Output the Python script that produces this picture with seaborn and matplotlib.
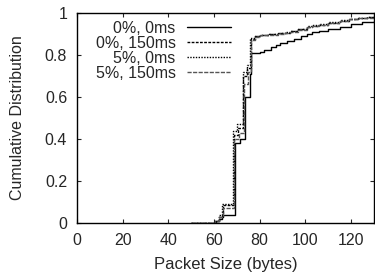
import matplotlib
matplotlib.use("Agg")
import matplotlib.pyplot as plt
import pandas as pd
import seaborn as sns

# CDF points (packet size in bytes, cumulative fraction)
size_0_0 = [50, 60, 61, 62, 63.5, 69.4, 71.2, 73.8, 75.6, 76.3, 78, 80, 82, 85, 87, 89, 92, 95, 98,
            100.7, 103, 106, 110, 115, 120, 125, 130]
cdf_0_0 = [0, 0, 0.01, 0.02, 0.04, 0.38, 0.40, 0.60, 0.71, 0.81, 0.81, 0.815, 0.825, 0.838, 0.847, 0.856,
           0.867, 0.878, 0.889, 0.90, 0.907, 0.915, 0.925, 0.935, 0.945, 0.955, 0.963]

size_0_150 = [50, 59.5, 60.5, 62, 64, 68.6, 70.5, 72.7, 74.5, 76, 78, 80, 84, 88, 91, 93.5, 97, 100.7,
              103, 106, 110, 115, 119, 123, 127, 130]
cdf_0_150 = [0, 0, 0.01, 0.03, 0.085, 0.42, 0.45, 0.70, 0.74, 0.875, 0.89, 0.895, 0.898, 0.902, 0.906,
             0.912, 0.922, 0.935, 0.938, 0.943, 0.952, 0.963, 0.970, 0.975, 0.979, 0.982]

size_5_0 = [50, 59, 60.5, 62, 63.5, 68.4, 70.3, 72.5, 74.3, 75.8, 78, 80, 84, 88, 91, 93.5, 97, 100.7,
            103, 106, 110, 115, 119, 123, 127, 130]
cdf_5_0 = [0, 0, 0.01, 0.04, 0.09, 0.44, 0.47, 0.72, 0.75, 0.88, 0.892, 0.897, 0.90, 0.904, 0.908,
           0.915, 0.925, 0.937, 0.940, 0.946, 0.955, 0.965, 0.972, 0.977, 0.980, 0.983]

size_5_150 = [50, 59.5, 60.5, 62, 64, 68.8, 70.8, 73, 74.8, 76.1, 78, 80, 84, 88, 91, 93.5, 97, 100.7,
              103, 106, 110, 115, 119, 123, 127, 130]
cdf_5_150 = [0, 0, 0.01, 0.03, 0.07, 0.40, 0.43, 0.66, 0.72, 0.87, 0.887, 0.893, 0.897, 0.90, 0.905,
             0.91, 0.92, 0.933, 0.937, 0.942, 0.95, 0.962, 0.969, 0.974, 0.978, 0.981]

labels = ["0%, 0ms", "0%, 150ms", "5%, 0ms", "5%, 150ms"]

sns.set_style("ticks", {"xtick.direction": "in", "ytick.direction": "in"})
plt.rcParams["font.family"] = ["Liberation Sans", "DejaVu Sans"]

fig = plt.figure(figsize=(3.75, 2.74), dpi=100)
ax = fig.add_axes([0.205, 0.186, 0.792, 0.767])

series = [
    (size_0_0, cdf_0_0, "-", "black"),
    (size_0_150, cdf_0_150, (0, (2, 1)), "black"),
    (size_5_0, cdf_5_0, (0, (1, 1)), "black"),
    (size_5_150, cdf_5_150, (0, (3, 1)), "#555555"),
]
for (xs, ys, ls, col), lab in zip(series, labels):
    df = pd.DataFrame({"size": xs, "cdf": ys})
    sns.lineplot(data=df, x="size", y="cdf", ax=ax, drawstyle="steps-post",
                 linestyle=ls, color=col, linewidth=1.0, label=lab)

ax.set_xlim(0, 130)
ax.set_ylim(0, 1)
ax.set_xticks([0, 20, 40, 60, 80, 100, 120])
ax.set_yticks([0, 0.2, 0.4, 0.6, 0.8, 1])
ax.set_yticklabels(["0", "0.2", "0.4", "0.6", "0.8", "1"])
ax.tick_params(labelsize=11.5, top=True, right=True, length=3, width=0.8, pad=7)
ax.set_xlabel("Packet Size (bytes)", fontsize=12, labelpad=7)
ax.set_ylabel("Cumulative Distribution", fontsize=11.5)
ax.yaxis.set_label_coords(-0.175, 0.5)
for sp in ax.spines.values():
    sp.set_color("black")
    sp.set_linewidth(1.0)

ax.legend(loc="upper left", bbox_to_anchor=(0.036, 1.0), frameon=False, markerfirst=False,
          fontsize=11.5, handlelength=2.75, handletextpad=0.7, labelspacing=0.0, borderaxespad=0.1)

fig.savefig("out.png", dpi=100)
